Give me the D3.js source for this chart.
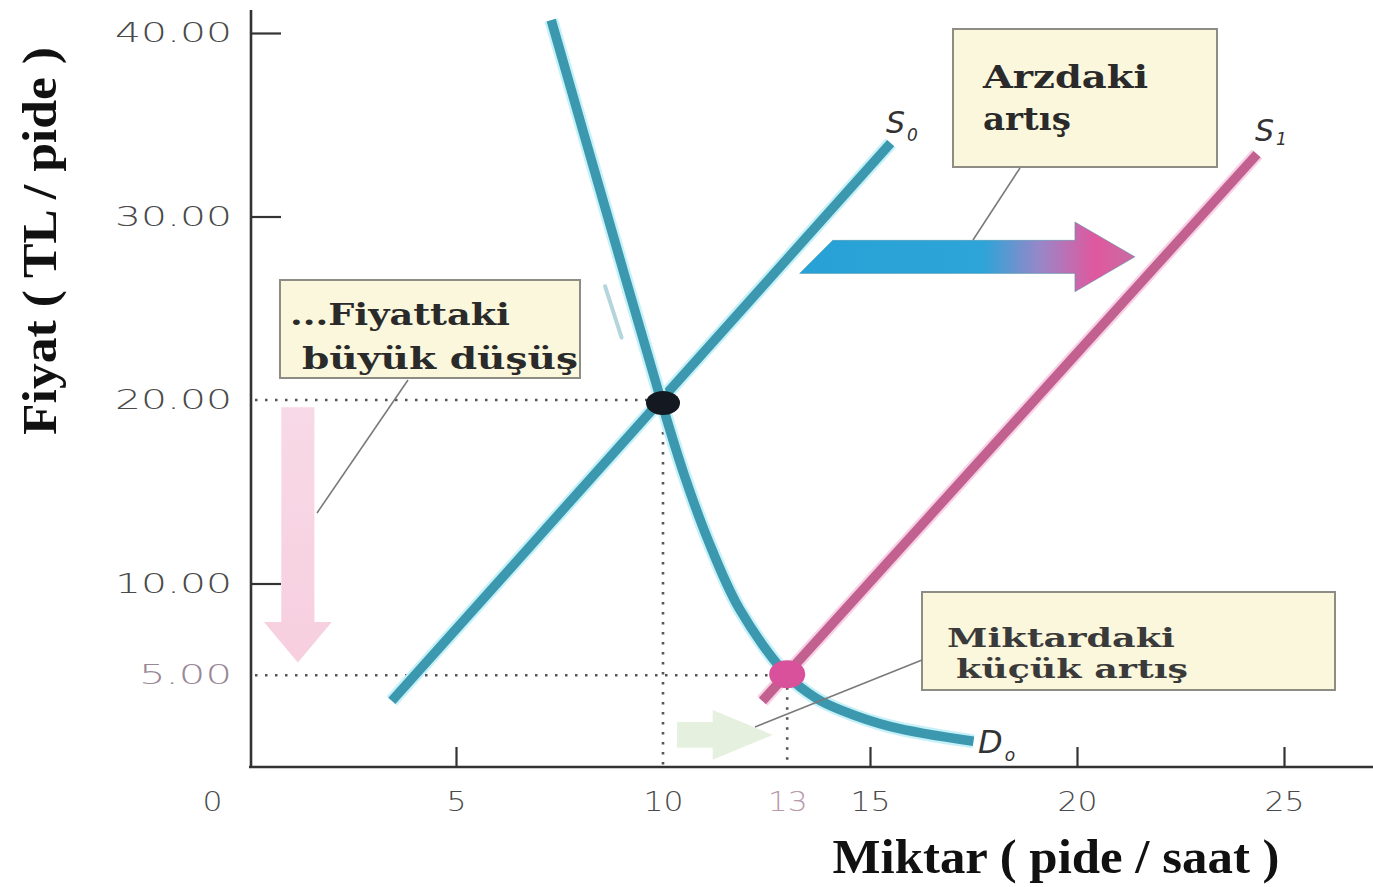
<!DOCTYPE html>
<html><head><meta charset="utf-8">
<script src="https://cdn.jsdelivr.net/npm/d3@7"></script>
<style>body{margin:0;background:#fff;} svg{display:block;}</style>
</head><body><svg id="c" width="1373" height="887"></svg>
<script>
// ---------- data ----------
const xTicks = [0, 5, 10, 13, 15, 20, 25];
const xTickLabels = ["0", "5", "10", "13", "15", "20", "25"];
const yTicks = [40, 30, 20, 10, 5];
const yTickLabels = ["40.00", "30.00", "20.00", "10.00", "5.00"];

const demandQ = [7.3, 8.65, 9.95, 10.5, 11.1, 11.85, 13.0, 13.7, 14.3, 15.5, 17.5];
const demandP = [40.7, 30.1, 20.0, 16.0, 12.3, 8.6, 5.0, 3.75, 3.1, 2.2, 1.4];
const supply0Q = [3.45, 15.5];
const supply0P = [3.6, 34.0];
const supply1Q = [12.4, 24.35];
const supply1P = [3.6, 33.4];

const equilibriumQ = [10, 13];
const equilibriumP = [20, 5];

const curveNames = ["S", "S", "D"];
const curveSubs = ["0", "1", "o"];

// annotation arrows (in data units)
const shiftArrowQ = [13.3, 14.1, 19.95, 19.95, 21.4, 19.95, 19.95];
const shiftArrowP = [26.9, 28.7, 28.7, 29.7, 27.8, 25.9, 26.9];
const priceArrowQ = [0.78, 1.58, 1.58, 2.0, 1.18, 0.36, 0.78];
const priceArrowP = [19.6, 19.6, 7.9, 7.9, 5.7, 7.9, 7.9];
const qtyArrowQ = [10.34, 11.2, 11.2, 12.65, 11.2, 11.2, 10.34];
const qtyArrowP = [2.45, 2.45, 3.1, 1.75, 0.4, 1.05, 1.05];

const boxTexts = [["Arzdaki", "artış"], ["...Fiyattaki", "büyük düşüş"], ["Miktardaki", "küçük artış"]];

// ---------- drawing ----------
const svg = d3.select("#c");
const x = d3.scaleLinear().domain([0, 25]).range([249, 1284]);
const y = d3.scaleLinear().domain([0, 40]).range([767, 33]);

const defs = svg.append("defs");
const g1 = defs.append("linearGradient").attr("id", "shiftGrad")
  .attr("x1", "0%").attr("x2", "100%").attr("y1", "0%").attr("y2", "0%");
[[0, "#27a2d6"], [0.55, "#2ea4d8"], [0.72, "#9a86c8"], [0.88, "#e0589e"], [1, "#c76ca2"]]
  .forEach(([o, c]) => g1.append("stop").attr("offset", o).attr("stop-color", c));
const g2 = defs.append("linearGradient").attr("id", "priceGrad")
  .attr("x1", "0%").attr("x2", "0%").attr("y1", "0%").attr("y2", "100%");
[[0, "#f8d9e6"], [1, "#f7cfdf"]].forEach(([o, c]) => g2.append("stop").attr("offset", o).attr("stop-color", c));

// dotted guides
const dot = svg.append("g").attr("stroke", "#555").attr("stroke-width", 2.6)
  .attr("stroke-dasharray", "2.5,7.5").attr("fill", "none");
equilibriumQ.forEach((q, i) => {
  const p = equilibriumP[i];
  dot.append("line").attr("x1", x(0) + 6).attr("x2", x(q) - 8).attr("y1", y(p)).attr("y2", y(p));
  dot.append("line").attr("x1", x(q)).attr("x2", x(q)).attr("y1", y(p) + 12).attr("y2", y(0));
});

// annotation arrows
const poly = (qs, ps) => qs.map((q, i) => [x(q), y(ps[i])]);
svg.append("path").attr("d", d3.line()(poly(priceArrowQ, priceArrowP)) + "Z").attr("fill", "url(#priceGrad)");
svg.append("path").attr("d", d3.line()(poly(qtyArrowQ, qtyArrowP)) + "Z").attr("fill", "#e6f0df");
svg.append("path").attr("d", d3.line()(poly(shiftArrowQ, shiftArrowP)) + "Z")
  .attr("fill", "url(#shiftGrad)").attr("stroke", "#4a8fa8").attr("stroke-width", 1).attr("stroke-opacity", 0.5);

// faint stray stroke
svg.append("line").attr("x1", x(8.6)).attr("y1", y(26.2)).attr("x2", x(9.0)).attr("y2", y(23.4))
  .attr("stroke", "#b3d6dd").attr("stroke-width", 4).attr("stroke-linecap", "round");

// axes
const yAxis = d3.axisLeft(y).tickValues(yTicks).tickFormat((d, i) => yTickLabels[i])
  .tickSizeInner(-30).tickSizeOuter(0).tickPadding(19);
const ya = svg.append("g").attr("transform", "translate(251,0)").call(yAxis);
ya.select(".domain").remove();
ya.selectAll(".tick line").attr("stroke", "#333").attr("stroke-width", 2.2)
  .attr("opacity", d => (d === 20 || d === 5) ? 0 : 1);
ya.selectAll(".tick text").attr("font-family", "DejaVu Sans").attr("font-size", 27).attr("font-weight", 300)
  .attr("fill", d => d === 5 ? "#9a8796" : "#4a4a4a")
  .attr("textLength", d => d === 5 ? 93 : 117).attr("lengthAdjust", "spacingAndGlyphs");

const xAxis = d3.axisBottom(x).tickValues(xTicks).tickFormat((d, i) => xTickLabels[i])
  .tickSizeInner(-20).tickSizeOuter(0).tickPadding(26);
const xa = svg.append("g").attr("transform", "translate(0,767)").call(xAxis);
xa.select(".domain").remove();
xa.selectAll(".tick line").attr("stroke", "#333").attr("stroke-width", 2.2)
  .attr("opacity", d => (d === 0 || d === 10 || d === 13) ? 0 : 1);
xa.selectAll(".tick text").attr("font-family", "DejaVu Sans").attr("font-size", 26).attr("font-weight", 300)
  .attr("fill", d => d === 13 ? "#b89aab" : "#4a4a4a")
  .attr("dx", d => d === 0 ? -37 : 0)
  .attr("textLength", d => d === 0 || d === 5 ? 20 : 40).attr("lengthAdjust", "spacingAndGlyphs");

svg.append("line").attr("x1", 251).attr("x2", 251).attr("y1", 10).attr("y2", 768)
  .attr("stroke", "#333").attr("stroke-width", 2.6);
svg.append("line").attr("x1", 249).attr("x2", 1373).attr("y1", 767).attr("y2", 767)
  .attr("stroke", "#333").attr("stroke-width", 2.6);

// curves
const line = d3.line().x(d => x(d[0])).y(d => y(d[1]));
const curves = [
  { q: supply0Q, p: supply0P, c: "#3b98ae", h: "#c6f1f8", curve: d3.curveLinear },
  { q: supply1Q, p: supply1P, c: "#c2608f", h: "#f7d2e6", curve: d3.curveLinear },
  { q: demandQ, p: demandP, c: "#3b98ae", h: "#c6f1f8", curve: d3.curveCatmullRom.alpha(0.5) }
];
curves.forEach(cv => {
  const pts = cv.q.map((q, i) => [q, cv.p[i]]);
  svg.append("path").attr("d", line.curve(cv.curve)(pts)).attr("fill", "none")
    .attr("stroke", cv.h).attr("stroke-width", 14).attr("stroke-linecap", "butt");
  svg.append("path").attr("d", line.curve(cv.curve)(pts)).attr("fill", "none")
    .attr("stroke", cv.c).attr("stroke-width", 9.5).attr("stroke-linecap", "butt");
});

// equilibrium dots
svg.append("ellipse").attr("cx", x(equilibriumQ[0])).attr("cy", y(equilibriumP[0]) + 3)
  .attr("rx", 17).attr("ry", 12).attr("fill", "#141820");
svg.append("ellipse").attr("cx", x(equilibriumQ[1])).attr("cy", y(equilibriumP[1]) - 1)
  .attr("rx", 18).attr("ry", 14).attr("fill", "#d9519a");

// curve labels
const labelPos = [[886, 133], [1255, 141], [978, 753]];
curveNames.forEach((n, i) => {
  const t = svg.append("text").attr("x", labelPos[i][0]).attr("y", labelPos[i][1])
    .attr("font-family", "DejaVu Sans").attr("font-style", "italic").attr("font-weight", 300)
    .attr("font-size", i === 2 ? 32 : 30).attr("fill", "#333");
  t.append("tspan").text(n);
  t.append("tspan").attr("font-size", 17).attr("dy", i === 1 ? 4 : 8).attr("dx", 2).text(curveSubs[i]);
});

// annotation boxes
const boxes = [
  { x0: 953, y0: 29, x1: 1217, y1: 167, tx: [983, 983], ty: [88, 130], tl: [165, 88], fs: 31, col: "#2a2a2a" },
  { x0: 280, y0: 280, x1: 580, y1: 378, tx: [290, 302], ty: [325, 369], tl: [220, 276], fs: 30, col: "#2a2a2a" },
  { x0: 922, y0: 592, x1: 1335, y1: 690, tx: [947, 956], ty: [647, 678], tl: [228, 232], fs: 26, col: "#3a3a3a" }
];
boxes.forEach((b, i) => {
  svg.append("rect").attr("x", b.x0).attr("y", b.y0).attr("width", b.x1 - b.x0).attr("height", b.y1 - b.y0)
    .attr("fill", "#faf7dc").attr("stroke", "#8d8d86").attr("stroke-width", 2);
  boxTexts[i].forEach((s, j) => {
    svg.append("text").attr("x", b.tx[j]).attr("y", b.ty[j]).text(s)
      .attr("font-family", "DejaVu Serif").attr("font-weight", "bold").attr("font-size", b.fs)
      .attr("fill", b.col).attr("textLength", b.tl[j]).attr("lengthAdjust", "spacingAndGlyphs");
  });
});

// leader lines
const leaders = [[1020, 168, 973, 240], [408, 380, 317, 513], [922, 660, 755, 727]];
leaders.forEach(l => svg.append("line").attr("x1", l[0]).attr("y1", l[1]).attr("x2", l[2]).attr("y2", l[3])
  .attr("stroke", "#7a7a7a").attr("stroke-width", 1.6));

// axis titles
svg.append("text").attr("transform", "translate(56,241) rotate(-90)").attr("text-anchor", "middle")
  .attr("font-family", "Liberation Serif").attr("font-weight", "bold").attr("font-size", 48)
  .attr("fill", "#111").attr("textLength", 388).attr("lengthAdjust", "spacingAndGlyphs")
  .text("Fiyat ( TL / pide )");
svg.append("text").attr("x", 1056).attr("y", 873).attr("text-anchor", "middle")
  .attr("font-family", "Liberation Serif").attr("font-weight", "bold").attr("font-size", 48)
  .attr("fill", "#111").attr("textLength", 447).attr("lengthAdjust", "spacingAndGlyphs")
  .text("Miktar ( pide / saat )");
</script></body></html>
